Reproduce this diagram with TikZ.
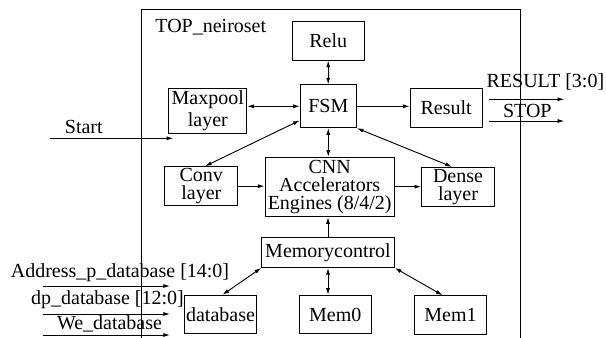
\documentclass[tikz,border=0pt]{standalone}
\usepackage{fontspec}
\setmainfont{Liberation Serif}
\newfontfamily\diagfont{Liberation Serif}
\usepackage{tikz}
\usetikzlibrary{arrows.meta}

\begin{document}
\begin{tikzpicture}[x=0.75pt,y=-0.75pt,
   font=\diagfont\fontsize{15}{13.5}\selectfont,
   blk/.style={draw,line width=0.75pt,inner sep=0pt,align=center},
   sig/.style={-{Latex[length=5pt,width=3pt]},line width=0.7pt},
   bisig/.style={{Latex[length=5pt,width=3pt]}-{Latex[length=5pt,width=3pt]},line width=0.7pt}]
   \useasboundingbox (0,0) rectangle (606,338);
   \draw[line width=0.7pt] (141.3,338) -- (141.3,9.3) -- (520,9.3) -- (520,338);
   \draw (150.7,27) node[anchor=west] (top) {TOP\_neiroset};

   \draw (328.2,40.7) node[blk,minimum width=72.3*0.75pt,minimum height=38.7*0.75pt] (relu) {Relu};
   \draw (328.3,106.3) node[blk,minimum width=56*0.75pt,minimum height=42.7*0.75pt] (fsm) {FSM};
    \draw (207.8,110.8) node[blk,minimum width=77.7*0.75pt,minimum height=45*0.75pt] (maxpool) {Maxpool\\[1.5pt]layer};
    \draw (446.2,107.8) node[blk,minimum width=72.3*0.75pt,minimum height=39*0.75pt] (result) {Result};
  \draw (201.3,186.2) node[blk,minimum width=72.7*0.75pt,minimum height=39*0.75pt] (conv) {Conv\\layer};
  \draw (329.7,187) node[blk,minimum width=129.3*0.75pt,minimum height=59.4*0.75pt] (cnn) {CNN\\Accelerators\\Engines (8/4/2)};
  \draw (458,186.7) node[blk,minimum width=72.6*0.75pt,minimum height=38.7*0.75pt] (dense) {Dense\\layer};
    \draw (328,252.3) node[blk,minimum width=132.6*0.75pt,minimum height=30.3*0.75pt] (memctrl) {Memorycontrol};
    \draw (220.5,314.5) node[blk,minimum width=72.4*0.75pt,minimum height=38.4*0.75pt] (database) {database};
    \draw (335.3,314.5) node[blk,minimum width=72*0.75pt,minimum height=38.4*0.75pt] (mem0) {Mem0};
    \draw (450.5,315) node[blk,minimum width=72.4*0.75pt,minimum height=38.6*0.75pt] (mem1) {Mem1};

   % ports
   \draw (83.8,126.7) node (start) {Start};
   \coordinate (startin) at (50,138.3);
   \coordinate (startout) at (173.3,138.3);
   \draw (545.4,82.3) node (resultlbl) {RESULT [3:0]};
   \draw (527.3,111) node (stoplbl) {STOP};
   \coordinate (resin) at (489.3,99.3);
   \coordinate (resout) at (564.3,99.3);
   \coordinate (stopin) at (489.3,121);
   \coordinate (stopout) at (564.3,121);
   \draw (120,272.7) node (addr) {Address\_p\_database [14:0]};
   \draw (107.5,300) node (dp) {dp\_database [12:0]};
   \draw (109.5,324.3) node (we) {We\_database};
   \coordinate (addrin) at (43.3,286);
   \coordinate (addrout) at (170,286);
   \coordinate (dpin) at (43.3,314);
   \coordinate (dpout) at (170,314);
   \coordinate (wein) at (43.3,335);
   \coordinate (weout) at (170,335);

      \path[sig] (startin) edge (startout);
      \path[sig] (resin) edge (resout);
      \path[sig] (stopin) edge (stopout);
      \path[sig] (addrin) edge (addrout);
      \path[sig] (dpin) edge (dpout);
      \path[sig] (wein) edge (weout);

      % links
      \path[bisig] (relu.south) edge (relu.south |- fsm.north);
      \path[bisig] (fsm.west) edge (maxpool.east |- fsm.west);
      \path[sig] (fsm.east) edge (result.west |- fsm.east);
      \path[bisig] ([yshift=5.8pt]fsm.south west) edge ([xshift=2.8pt]conv.north);
      \path[bisig] (fsm.south east) edge ([xshift=-4.5pt]dense.north);
      \path[bisig] (fsm.south) edge (fsm.south |- cnn.north);
      \path[sig] (conv.east) edge (cnn.west |- conv.east);
      \path[sig] (cnn.east |- dense.west) edge (dense.west);
      \path[sig] (memctrl.north) edge (memctrl.north |- cnn.south);
      \path[bisig] (memctrl.south west) edge ([xshift=1.5pt]database.north);
      \path[bisig] (memctrl.south) edge (memctrl.south |- mem0.north);
      \path[bisig] (memctrl.south east) edge ([xshift=-6pt]mem1.north);
\end{tikzpicture}
\end{document}
